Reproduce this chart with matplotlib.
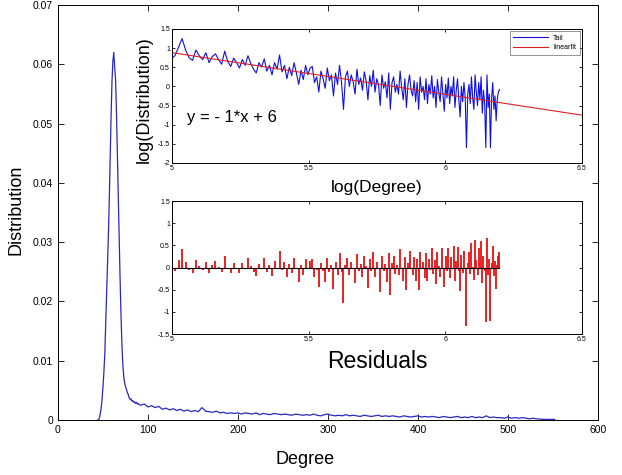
import numpy as np
import matplotlib
matplotlib.use('Agg')
import matplotlib.pyplot as plt

plt.rcParams['font.family'] = ['Liberation Sans', 'DejaVu Sans']

############# data #############
# main curve: degree distribution
body_degree = np.arange(44, 91)
body_dist = [0, 0, 0.0003, 0.001, 0.002, 0.0035, 0.0055, 0.008, 0.011, 0.016,
             0.021, 0.026, 0.031, 0.037, 0.044, 0.051, 0.057, 0.0605, 0.062, 0.0595,
             0.0575, 0.052, 0.045, 0.038, 0.031, 0.024, 0.018, 0.013, 0.0095, 0.0075,
             0.0063, 0.0057, 0.0052, 0.0047, 0.0043, 0.0038, 0.0035, 0.0036, 0.0032, 0.0033,
             0.0030, 0.0031, 0.0028, 0.0030, 0.0027, 0.0028, 0.0026]
far_degree = np.arange(92, 553, 4)
far_dist = [0.0025, 0.0027, 0.0022, 0.0024, 0.0021, 0.0023, 0.0018, 0.0020, 0.0017, 0.0019,
            0.0016, 0.0018, 0.0015, 0.0017, 0.0014, 0.0016, 0.0014, 0.0021, 0.0015, 0.0014,
            0.0013, 0.0015, 0.0012, 0.0013, 0.0011, 0.0012, 0.0011, 0.0012, 0.0010, 0.0012,
            0.0011, 0.0010, 0.0012, 0.0009, 0.0011, 0.0010, 0.0009, 0.0011, 0.0010, 0.0009,
            0.0010, 0.0009, 0.0008, 0.0010, 0.0009, 0.0008, 0.0009, 0.0008, 0.0010, 0.0008,
            0.0007, 0.0009, 0.0010, 0.0008, 0.0007, 0.0008, 0.0007, 0.0009, 0.0007, 0.0008,
            0.0007, 0.0006, 0.0008, 0.0007, 0.0006, 0.0007, 0.0008, 0.0006, 0.0007, 0.0006,
            0.0007, 0.0006, 0.0005, 0.0007, 0.0006, 0.0005, 0.0006, 0.0007, 0.0005, 0.0006,
            0.0005, 0.0006, 0.0005, 0.0004, 0.0006, 0.0005, 0.0004, 0.0005, 0.0006, 0.0004,
            0.0005, 0.0004, 0.0006, 0.0004, 0.0005, 0.0004, 0.0007, 0.0004, 0.0005, 0.0004,
            0.0004, 0.0003, 0.0005, 0.0003, 0.0004, 0.0003, 0.0004, 0.0003, 0.0002, 0.0003,
            0.0002, 0.00015, 0.0001, 0.0001, 0.0001, 0.0001]

# tail in log-log space
tail_degree = np.arange(148, 493, 2)
tail_logdist = [0.72, 0.80, 1.02, 1.25, 0.95,
                0.75, 0.68, 0.95, 0.80, 0.70,
                0.88, 0.62, 0.78, 0.85, 0.70,
                0.58, 0.92, 0.65, 0.52, 0.74,
                0.62, 0.48, 0.70, 0.55, 0.80,
                0.60, 0.45, 0.35, 0.62, 0.50,
                0.72, 0.40, 0.55, 0.30, 0.62,
                0.45, 0.82, 0.38, 0.55, 0.20,
                0.50, 0.28, 0.62, 0.35, 0.05,
                0.42, 0.18, 0.55, 0.30, 0.48,
                0.52, 0.10, 0.25, -0.15, 0.40,
                0.20, -0.05, 0.48, 0.15, 0.30,
                -0.25, 0.35, 0.05, 0.55, 0.10,
                -0.60, 0.25, 0.40, 0.0, 0.30,
                0.12, -0.20, 0.45, 0.05, 0.22,
                -0.10, 0.38, 0.15, -0.35, 0.28,
                0.0, 0.42, -0.15, 0.20, 0.05,
                -0.50, 0.30, -0.05, 0.12, -0.30,
                0.35, -0.60, 0.10, 0.25, -0.15,
                0.05, -0.20, 0.40, -0.05, -0.35,
                0.20, -0.55, 0.05, 0.30, -0.10,
                -0.25, 0.15, -0.40, 0.10, -0.60,
                0.25, -0.15, 0.0, -0.35, 0.20,
                -0.45, 0.05, -0.20, 0.28, -0.30,
                0.0, -0.55, 0.18, -0.15, -0.40,
                0.25, -0.20, -0.65, 0.05, -0.30,
                0.22, -0.45, 0.0, -0.25, 0.25,
                -0.55, -0.10, 0.20, -0.35, -0.80,
                0.0, -0.40, 0.10, -0.30, -1.60,
                -0.20, 0.05, -0.45, 0.25, -0.30,
                -0.60, 0.30, -0.15, -0.50, 0.10,
                -0.35, 0.25, -0.70, -0.10, -0.45,
                -1.60, 0.30, -0.55, -0.20, -1.60,
                -0.30, 0.10, -0.60, -0.25, -0.90,
                -0.35, -0.15, -0.08]

main_yticks = [0, 0.01, 0.02, 0.03, 0.04, 0.05, 0.06, 0.07]
main_ylabels = ['0', '0.01', '0.02', '0.03', '0.04', '0.05', '0.06', '0.07']
log_xticks = [5, 5.5, 6, 6.5]
top_yticks = [-2, -1.5, -1, -0.5, 0, 0.5, 1, 1.5]
res_yticks = [-1.5, -1, -0.5, 0, 0.5, 1, 1.5]

############# fit #############
logdeg = np.log(tail_degree)
tail_logdist = np.array(tail_logdist)
coef = np.polyfit(logdeg, tail_logdist, 1)
fit = np.poly1d(coef)
residuals = tail_logdist - fit(logdeg)

############# plotting #############
fig = plt.figure(figsize=(6.22, 4.75), dpi=100)

def matlab_style(ax, size, length):
    ax.tick_params(direction='in', top=True, right=True, labelsize=size,
                   length=length, width=0.6)
    for s in ax.spines.values():
        s.set_linewidth(0.7)

ax = fig.add_axes([0.0932, 0.1158, 0.868, 0.8737])
ax.plot(np.concatenate([body_degree, far_degree]),
        np.concatenate([body_dist, far_dist]), color='#2828c0', lw=0.9)
ax.set_xlim(0, 600)
ax.set_ylim(0, 0.07)
ax.set_yticks(main_yticks)
ax.set_yticklabels(main_ylabels)
ax.set_xticks([0, 100, 200, 300, 400, 500, 600])
matlab_style(ax, 7.5, 4)
fig.text(0.025, 0.558, 'Distribution', rotation=90, ha='center', va='center', fontsize=13)
fig.text(0.49, 0.032, 'Degree', ha='center', va='center', fontsize=13)

# upper inset: log-log tail with fit
ax1 = fig.add_axes([0.2765, 0.657, 0.659, 0.282])
ax1.plot(logdeg, tail_logdist, color='#1010e0', lw=0.8, label='Tail')
xl = np.array([5, 6.5])
ax1.plot(xl, fit(xl), color='#e02020', lw=0.8, label='linearfit')
ax1.set_xlim(5, 6.5)
ax1.set_ylim(-2, 1.5)
ax1.set_xticks(log_xticks)
ax1.set_xticklabels(['5', '5.5', '6', '6.5'])
ax1.set_yticks(top_yticks)
ax1.set_yticklabels(['-2', '-1.5', '-1', '-0.5', '0', '0.5', '1', '1.5'])
matlab_style(ax1, 5, 2.5)
ax1.tick_params(pad=1.5)
leg = ax1.legend(loc='upper right', fontsize=5, frameon=True, fancybox=False,
                 handlelength=5, borderpad=0.5, labelspacing=0.4,
                 borderaxespad=0.3)
leg.get_frame().set_edgecolor('#444444')
leg.get_frame().set_linewidth(0.5)
ax1.text(0.037, 0.336, 'y = - %d*x + %d' % (abs(round(coef[0])), round(coef[1])),
         transform=ax1.transAxes, fontsize=12, va='center')
fig.text(0.232, 0.79, 'log(Distribution)', rotation=90, ha='center', va='center', fontsize=13)
fig.text(0.606, 0.606, 'log(Degree)', ha='center', va='center', fontsize=12.5)

# lower inset: residuals
ax2 = fig.add_axes([0.2765, 0.2968, 0.659, 0.28])
ax2.vlines(logdeg, 0, residuals, color='#e81010', lw=1.3)
ax2.plot([logdeg[0], logdeg[-1]], [0, 0], color='black', lw=0.8)
ax2.set_xlim(5, 6.5)
ax2.set_ylim(-1.5, 1.5)
ax2.set_xticks(log_xticks)
ax2.set_xticklabels(['5', '5.5', '6', '6.5'])
ax2.set_yticks(res_yticks)
ax2.set_yticklabels(['-1.5', '-1', '-0.5', '0', '0.5', '1', '1.5'])
matlab_style(ax2, 5, 2.5)
ax2.tick_params(pad=1.5)
fig.text(0.606, 0.238, 'Residuals', ha='center', va='center', fontsize=16.5)

fig.savefig('out.png', dpi=100)
